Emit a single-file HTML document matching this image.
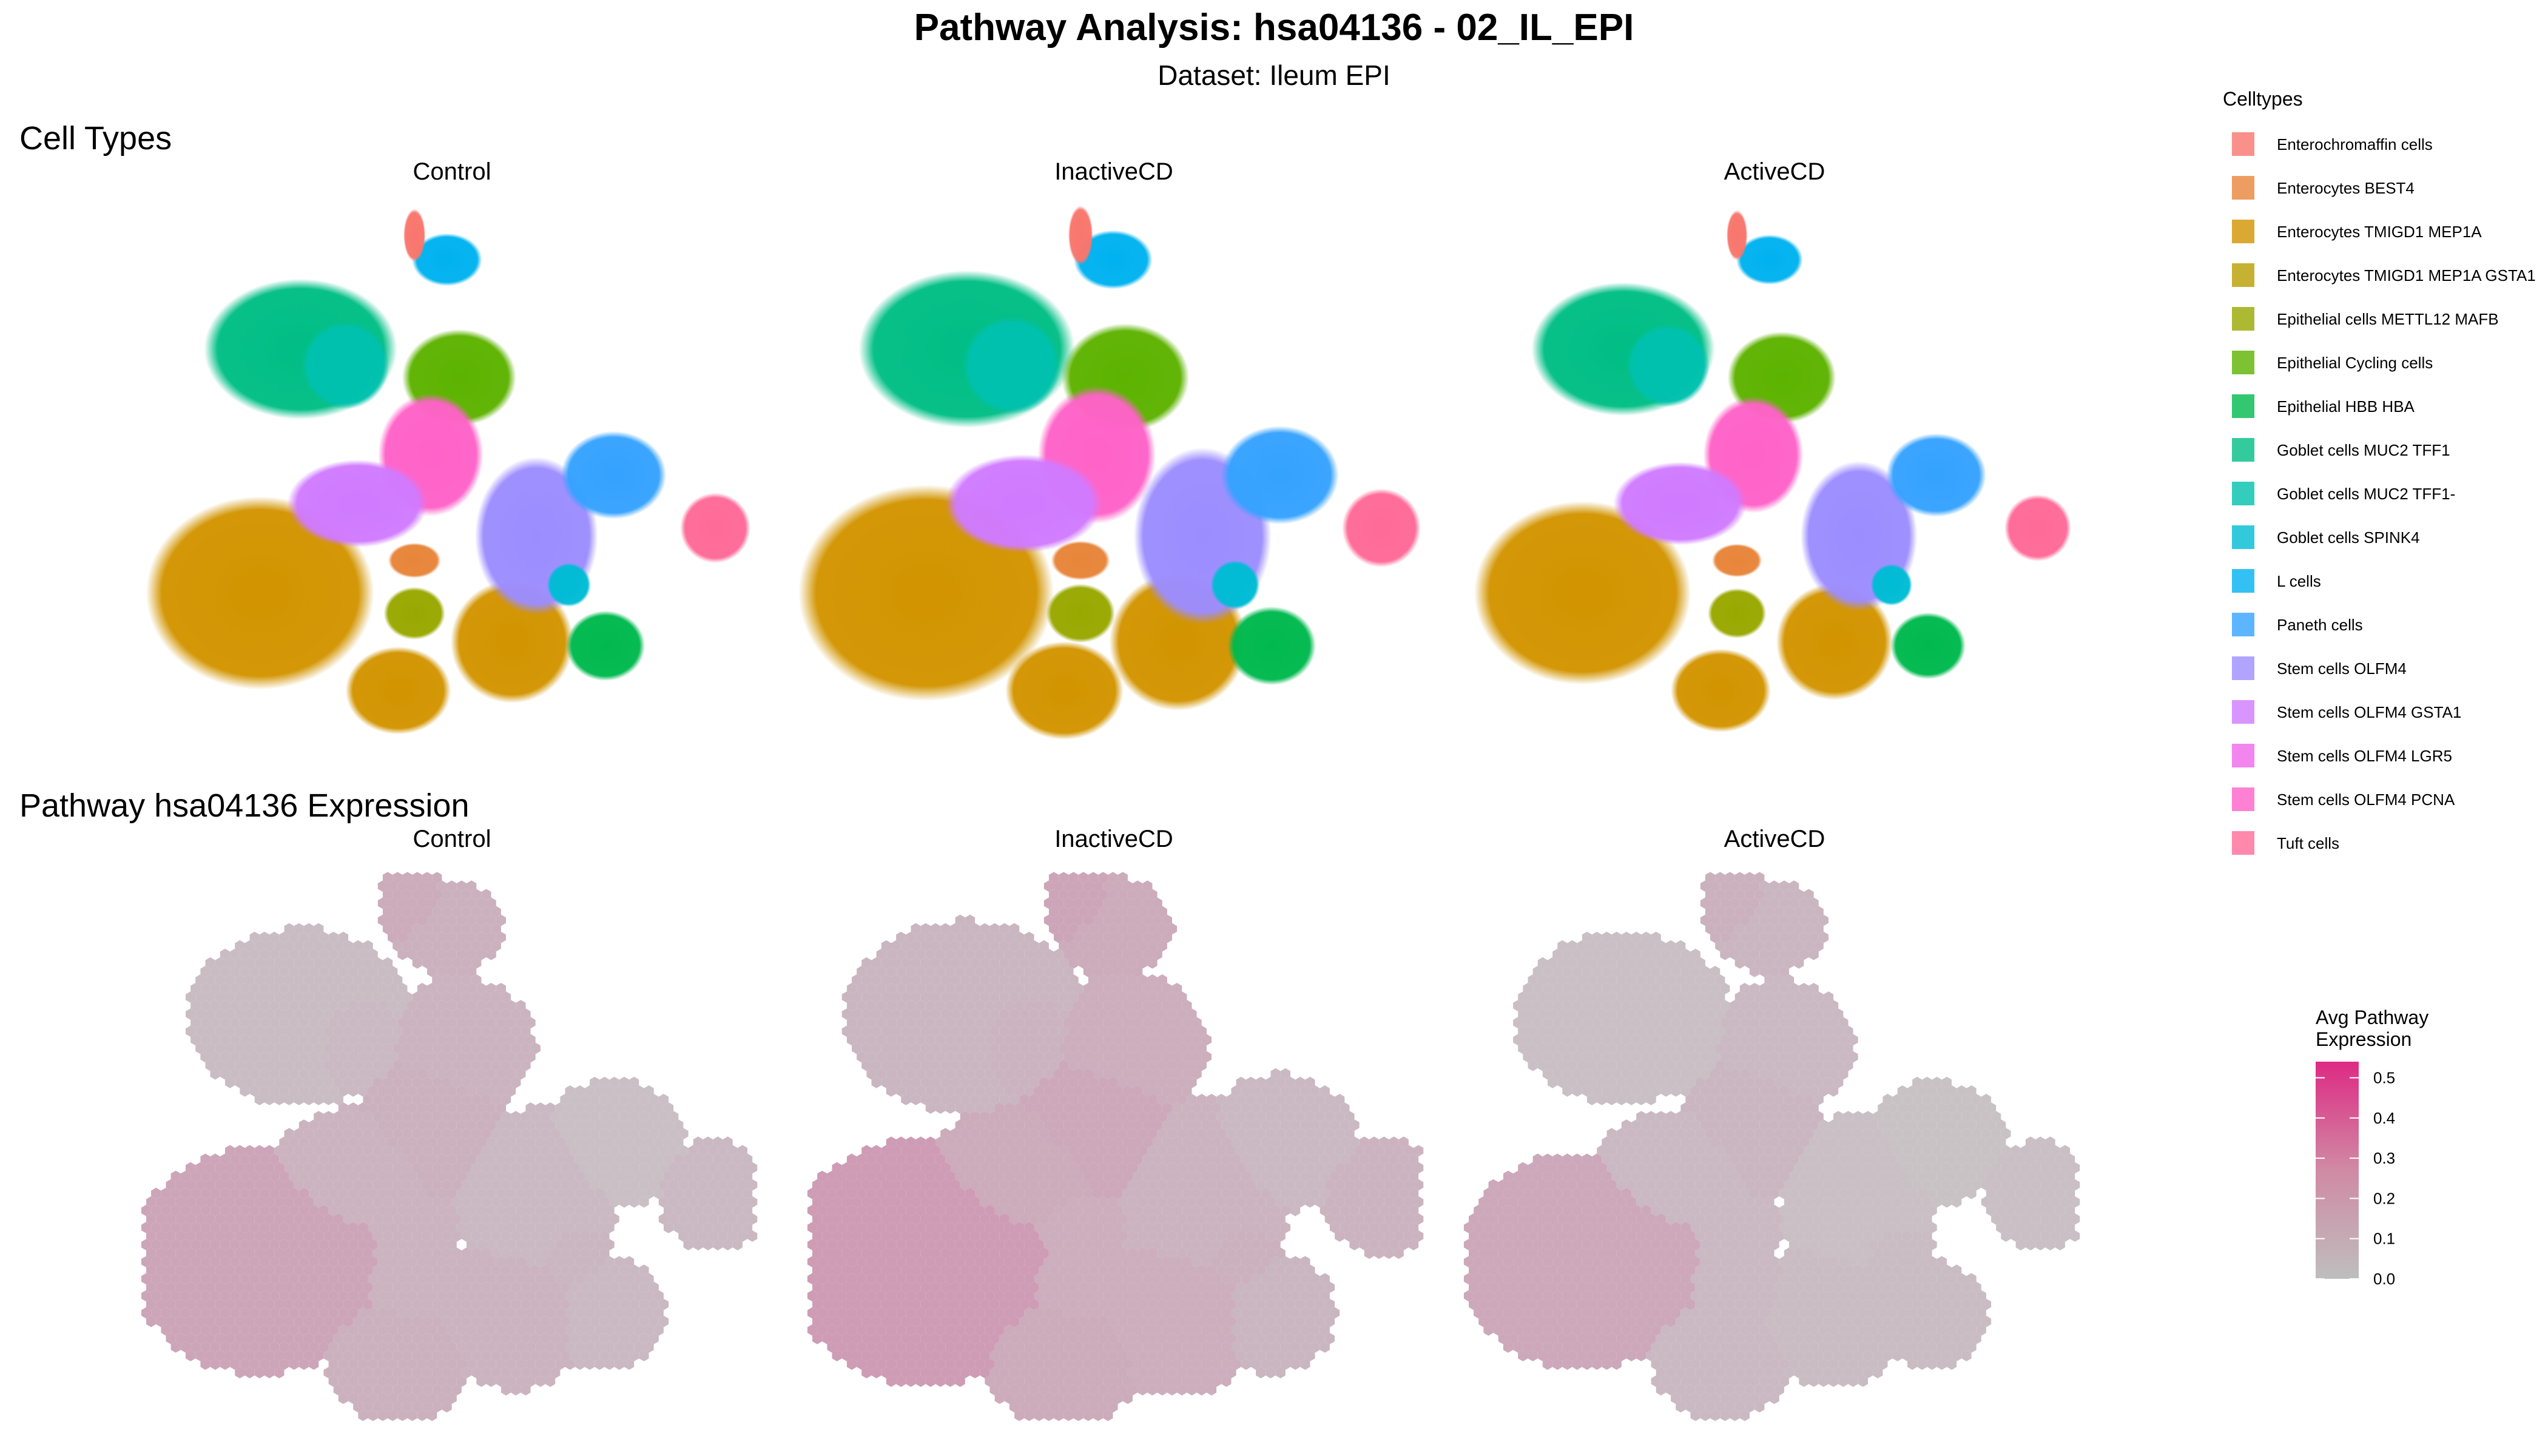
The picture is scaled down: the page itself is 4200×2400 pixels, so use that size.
<!DOCTYPE html>
<html><head><meta charset="utf-8">
<style>
html,body{margin:0;padding:0;background:#fff;}
svg{display:block;font-family:"Liberation Sans","DejaVu Sans",sans-serif;}
</style></head>
<body>
<svg id="chart" width="4200" height="2400" viewBox="0 0 4200 2400" xmlns="http://www.w3.org/2000/svg">
<defs id="defs"></defs>
<text x="2100" y="66" text-anchor="middle" font-size="62" font-weight="bold" fill="#000">Pathway Analysis: hsa04136 - 02_IL_EPI</text>
<text x="2100" y="140" text-anchor="middle" font-size="46" fill="#000">Dataset: Ileum EPI</text>
<text x="32" y="246" font-size="54" fill="#000">Cell Types</text>
<text x="32" y="1346" font-size="54" fill="#000">Pathway hsa04136 Expression</text>
<g id="umap"></g>
<g id="hex"></g>
<g id="legend">
<text x="3664" y="174" font-size="32" fill="#000">Celltypes</text>
</g>
<g id="cbar">
<text x="3817" y="1688" font-size="32" fill="#000">Avg Pathway</text>
<text x="3817" y="1724" font-size="32" fill="#000">Expression</text>
</g>
</svg>
<script>
// ---- data ----
const conditions = ["Control","InactiveCD","ActiveCD"];
const celltypes = ["Enterochromaffin cells","Enterocytes BEST4","Enterocytes TMIGD1 MEP1A","Enterocytes TMIGD1 MEP1A GSTA1","Epithelial cells METTL12 MAFB","Epithelial Cycling cells","Epithelial HBB HBA","Goblet cells MUC2 TFF1","Goblet cells MUC2 TFF1-","Goblet cells SPINK4","L cells","Paneth cells","Stem cells OLFM4","Stem cells OLFM4 GSTA1","Stem cells OLFM4 LGR5","Stem cells OLFM4 PCNA","Tuft cells"];
const celltypeColors = ["#F8766D","#E8853A","#D29400","#B89E00","#99A800","#5DB300","#00B94E","#00BE85","#00C1AE","#00BCD4","#00B2F0","#35A2FF","#9C8DFF","#D07AFF","#F066EA","#FF62C8","#FF6A98"];
// cluster blobs in UMAP units (x: 0..15, y: 0..13.4)
const clusterType = [2,2,2,7,8,5,15,13,12,11,16,10,0,1,4,6,9];
const clusterX    = [2.8,6.2,9.0,3.8,4.9,7.7,7.0,5.2,9.6,11.5,14.0,7.4,6.6,6.6,6.6,11.3,10.4];
const clusterY    = [3.8,1.4,2.6,9.8,9.4,9.1,7.2,6.0,5.2,6.7,5.4,12.0,12.6,4.6,3.3,2.5,4.0];
const clusterRX   = [2.6,1.2,1.4,2.2,1.0,1.3,1.2,1.6,1.4,1.2,0.8,0.8,0.25,0.6,0.7,0.9,0.5];
const clusterRY   = [2.2,1.0,1.4,1.6,1.0,1.1,1.4,1.0,1.8,1.0,0.8,0.6,0.6,0.4,0.6,0.8,0.5];
// per-condition size factor
const conditionScale = [1.0,1.12,0.95];
// avg pathway expression per cluster per condition
const exprControl  = [0.12,0.08,0.07,0.04,0.05,0.07,0.08,0.07,0.05,0.03,0.05,0.08,0.10,0.07,0.07,0.05,0.06];
const exprInactive = [0.15,0.10,0.09,0.06,0.07,0.09,0.11,0.10,0.07,0.05,0.07,0.10,0.12,0.09,0.09,0.06,0.08];
const exprActive   = [0.11,0.05,0.04,0.03,0.03,0.05,0.06,0.05,0.03,0.02,0.03,0.06,0.08,0.05,0.05,0.04,0.04];
const exprByCond = [exprControl, exprInactive, exprActive];
const colorbarTicks = [0.0,0.1,0.2,0.3,0.4,0.5];

// ---- scales ----
const NS="http://www.w3.org/2000/svg";
const panelX0=[241,1339,2421], unit=67, rowBottom=[1232,2333];
const titleX=[745,1836,2925];
function sx(p,u){return panelX0[p]+u*unit;}
function sy(r,u){return rowBottom[r]-u*unit;}
function el(tag,attrs,parent){const e=document.createElementNS(NS,tag);for(const k in attrs)e.setAttribute(k,attrs[k]);parent.appendChild(e);return e;}
const defs=document.getElementById('defs');
celltypeColors.forEach((c,i)=>{
  const g=el('radialGradient',{id:'g'+i},defs);
  el('stop',{offset:'0','stop-color':c,'stop-opacity':'1'},g);
  el('stop',{offset:'0.86','stop-color':c,'stop-opacity':'0.97'},g);
  el('stop',{offset:'1','stop-color':c,'stop-opacity':'0'},g);
});
// ---- UMAP panels ----
const umap=document.getElementById('umap');
conditions.forEach((cond,p)=>{
  const t=el('text',{x:titleX[p],y:296,'text-anchor':'middle','font-size':40,fill:'#000'},umap);
  
  
  t.textContent=cond;
  const g=el('g',{},umap);
  
  
  const s=conditionScale[p];
  clusterX.forEach((cx,i)=>{
    const e=el('ellipse',{cx:sx(p,cx),cy:sy(0,clusterY[i]),rx:clusterRX[i]*s*unit*1.08,ry:clusterRY[i]*s*unit*1.08,fill:'url(#g'+clusterType[i]+')'},g);
    
    
  });
});
// ---- hexbin panels ----
const vmax=0.54;
function colorFor(v){const t=Math.max(0,Math.min(1,v/vmax));
  const a=[200,200,200],b=[221,42,131];
  return 'rgb('+a.map((x,k)=>Math.round(x+(b[k]-x)*t)).join(',')+')';}
const hex=document.getElementById('hex');
const hs=0.14; // hex radius in units
conditions.forEach((cond,p)=>{
  const t=el('text',{x:titleX[p],y:1396,'text-anchor':'middle','font-size':40,fill:'#000'},hex);
  
  
  t.textContent=cond;
  const g=el('g',{},hex);
  
  
  const s=conditionScale[p], ex=exprByCond[p];
  const dx=hs*Math.sqrt(3), dy=hs*1.5;
  let row=0;
  for(let y=0;y<=13.4;y+=dy,row++){
    for(let x=(row%2?dx/2:0);x<=15;x+=dx){
      let best=-1,bd=1e9;
      for(let i=0;i<clusterX.length;i++){
        const rx=clusterRX[i]*s+0.6, ry=clusterRY[i]*s+0.6;
        const d=((x-clusterX[i])/rx)**2+((y-clusterY[i])/ry)**2;
        if(d<=1 && d<bd){bd=d;best=i;}
      }
      if(best<0)continue;
      const cx=sx(p,x), cy=sy(1,y), r=hs*unit;
      let pts=[];
      for(let k=0;k<6;k++){const a=Math.PI/180*(60*k+30);pts.push((cx+r*Math.cos(a)).toFixed(1)+','+(cy+r*Math.sin(a)).toFixed(1));}
      const h=el('polygon',{points:pts.join(' '),fill:colorFor(ex[best])},g);
      
      
    }
  }
});
// ---- legend ----
const lg=document.getElementById('legend');
celltypes.forEach((name,i)=>{
  const y=218+i*72;
  const r=el('rect',{x:3679,y:y,width:37,height:39,fill:celltypeColors[i],'fill-opacity':0.8},lg);
  
  
  const t=el('text',{x:3753,y:y+29,'font-size':26,fill:'#000'},lg);
  
  
  t.textContent=name;
});
// ---- colorbar ----
const cb=document.getElementById('cbar');
const grad=el('linearGradient',{id:'cbg',x1:0,y1:1,x2:0,y2:0},defs);
el('stop',{offset:'0','stop-color':'#bebebe'},grad);
el('stop',{offset:'0.5','stop-color':'#d08aa4'},grad);
el('stop',{offset:'1','stop-color':'#dd2a83'},grad);
const cbTop=1750,cbBot=2108;
function cy(v){return cbBot-(v/vmax)*(cbBot-cbTop);}
const bar=el('rect',{x:3817,y:cbTop,width:71,height:cbBot-cbTop,fill:'url(#cbg)'},cb);


colorbarTicks.forEach(v=>{
  const y=cy(v);
  el('line',{x1:3817,x2:3832,y1:y,y2:y,stroke:'#fff','stroke-width':2},cb);
  el('line',{x1:3873,x2:3888,y1:y,y2:y,stroke:'#fff','stroke-width':2},cb);
  const t=el('text',{x:3912,y:y+9,'font-size':26,fill:'#000'},cb);
  
  
  t.textContent=v.toFixed(1);
});
</script>
</body></html>
